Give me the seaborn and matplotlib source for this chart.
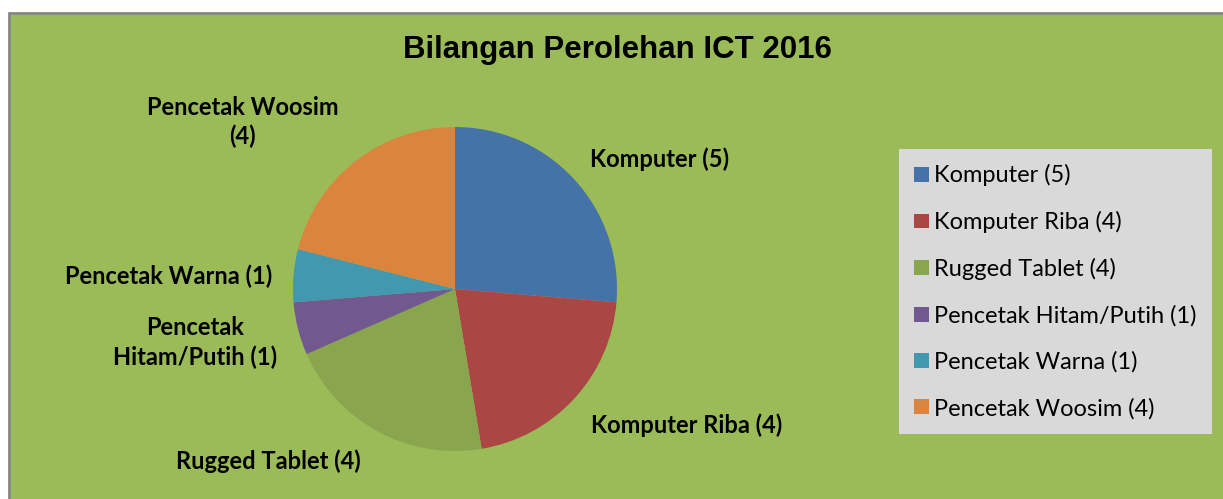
import matplotlib
matplotlib.use("Agg")
import matplotlib.pyplot as plt
import matplotlib.patches as mpatches
import seaborn as sns

# data
kategori = ["Komputer", "Komputer Riba", "Rugged Tablet", "Pencetak Hitam/Putih",
            "Pencetak Warna", "Pencetak Woosim"]
bilangan = [5, 4, 4, 1, 1, 4]
label_pie = ["Komputer (5)", "Komputer Riba (4)", "Rugged Tablet (4)",
             "Pencetak\nHitam/Putih (1)", "Pencetak Warna (1)", "Pencetak Woosim\n(4)"]
label_legend = [f"{k} ({b})" for k, b in zip(kategori, bilangan)]

# label positions (pie data units, radius = 1)
label_pos = [(1.265, 0.80), (1.43, -0.84), (-1.155, -1.06),
             (-1.605, -0.33), (-1.77, 0.08), (-1.31, 1.03)]

sns.set_style("white")
warna = sns.color_palette(["#4572A7", "#AA4643", "#89A54E", "#71588F", "#4198AF", "#DB843D"])
plt.rcParams["font.family"] = ["Lato", "DejaVu Sans"]
plt.rcParams["text.color"] = "black"

W, H = 1223, 499
fig = plt.figure(figsize=(W / 100, H / 100), dpi=100)
fig.patch.set_facecolor("white")

# chart area background
bg = mpatches.Rectangle((8.5 / W, -0.01), 1.02, (H - 12.5) / H + 0.01,
                        transform=fig.transFigure, facecolor="#9BBB59",
                        edgecolor="#868686", linewidth=2, zorder=-10)
fig.patches.append(bg)

r = 162
cx, cy = 455, 289
ax = fig.add_axes([(cx - r) / W, (H - cy - r) / H, 2 * r / W, 2 * r / H])
ax.set_facecolor("none")
ax.pie(bilangan, colors=warna, startangle=90, counterclock=False, radius=1,
       wedgeprops=dict(linewidth=0))
ax.set_xlim(-1, 1)
ax.set_ylim(-1, 1)
ax.set_aspect("auto")
ax.axis("off")

for teks, (x, y) in zip(label_pie, label_pos):
    ax.text(x, y, teks, ha="center", va="center", fontsize=17, fontweight="bold",
            color="black", clip_on=False, linespacing=1.3)

fig.text(617 / W, 1 - 50 / H, "Bilangan Perolehan ICT 2016", ha="center", va="center",
         fontsize=22.5, fontweight="bold", color="black",
         family=["Liberation Sans", "DejaVu Sans"])

handles = [mpatches.Patch(facecolor=c, edgecolor="none") for c in warna]
leg = fig.legend(handles, label_legend, loc="upper left",
                 bbox_to_anchor=(899 / W, 1 - 149 / H), bbox_transform=fig.transFigure,
                 fontsize=17, frameon=True, facecolor="#D9D9D9", edgecolor="none",
                 fancybox=False, framealpha=1, borderaxespad=0, labelspacing=1.05,
                 handlelength=0.6, handleheight=0.6, handletextpad=0.25,
                 borderpad=0.65)
for t in leg.get_texts():
    t.set_color("black")

plt.savefig("out.png", dpi=100)
